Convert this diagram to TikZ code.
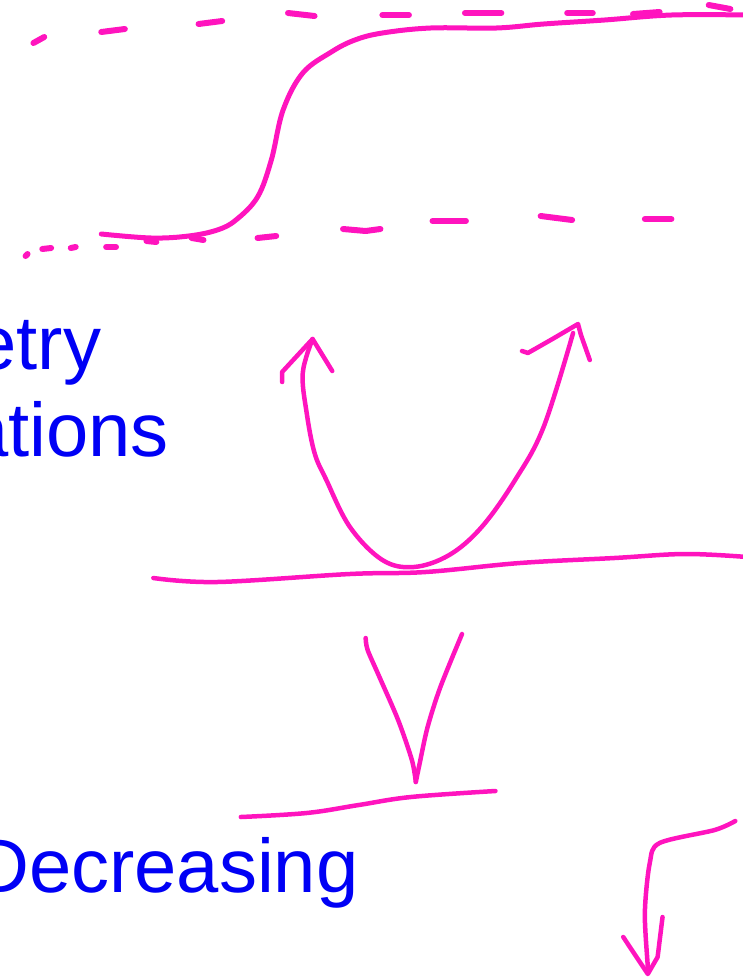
\documentclass[tikz,border=0pt]{standalone}
\usepackage{fontspec}
\setmainfont{Liberation Sans}
\definecolor{pen}{RGB}{255,20,190}
\definecolor{ink}{RGB}{0,0,245}

\begin{document}
\begin{tikzpicture}[
  x=0.983pt, y=-1pt,
  stroke/.style={draw=pen,line width=4.5pt,line cap=round,line join=round},
  dashmark/.style={stroke,line width=6pt},
  word/.style={text=ink,inner sep=0pt,anchor=base east,font=\fontsize{76}{80}\selectfont}
]
  \useasboundingbox (0pt,0pt) rectangle (743pt,-978pt);

  % upper dashed level
  \foreach \xa/\ya/\xb/\yb in {34/43/45/37, 103/32/127/29, 202/24/226/21, 293/13/320/16,
      389/15/416/15, 473/13/510/13, 577/13/603/13, 644/14/671/12, 721/5/743/9}
    \draw[dashmark] (\xa,\ya) -- (\xb,\yb);

  % lower dashed level
  \foreach \xa/\ya/\xb/\yb in {26/256/28/254, 43/249/52/248, 72/248/77/247, 108/247/118/247,
      149/241/159/242, 195/238/207/240, 262/238/281/236, 440/221/474/221,
      550/216/582/220, 656/219/683/219}
    \draw[dashmark] (\xa,\ya) -- (\xb,\yb);
  \draw[dashmark] (349,229) -- (372,231) -- (387,229);

  % step curve
  \draw[stroke,line width=5pt] plot[smooth,tension=0.6] coordinates {(103,234) (154,238) (192,236) (221,230)
      (240,220) (262,197) (276,160) (288,110) (308,73) (337,52) (361,40) (389,33) (438,28)
      (505,28) (553,24) (615,20) (683,15) (760,15)};

  % parabola with arrows
  \draw[stroke] plot[smooth,tension=0.6] coordinates {(318,339) (308,373) (312,413) (320,453)
      (332,480) (356,527) (389,560) (421,567) (457,555) (490,527) (524,480) (553,427)
      (583,333)};
  \draw[stroke] (287,382) -- (287,372) -- (318,339) -- (338,371);
  \draw[stroke] (531,351) -- (537,353) -- (562,339) -- (588,324) -- (591,335) -- (600,360);

  % base line under parabola
  \draw[stroke] plot[smooth,tension=0.6] coordinates {(156,578) (221,582) (356,574) (433,572)
      (529,563) (625,558) (697,554) (760,557)};

  % V shape and its base
  \draw[stroke] plot[smooth,tension=0.5] coordinates {(372,638) (374,650) (386,677) (405,720) (419,760) (423,782)};
  \draw[stroke] plot[smooth,tension=0.5] coordinates {(423,782) (427,763) (435,727) (448,687) (470,634)};
  \draw[stroke] plot[smooth,tension=0.6] coordinates {(245,817) (312,813) (365,805) (418,797) (504,791)};

  % falling curve, bottom right
  \draw[stroke] plot[smooth,tension=0.5] coordinates {(748,821) (727,830) (671,843) (661,863)
      (656,913) (659,967) (659,973)};
  \draw[stroke] (634,937) -- (659,974) -- (669,957) -- (674,917);

  % labels, cut at the left edge
  \node[word] (sym) at (103,369) {etry};
  \node[word] (trans) at (172,456) {ations};
  \node[word] (dec) at (365,892) {Decreasing};
\end{tikzpicture}
\end{document}
